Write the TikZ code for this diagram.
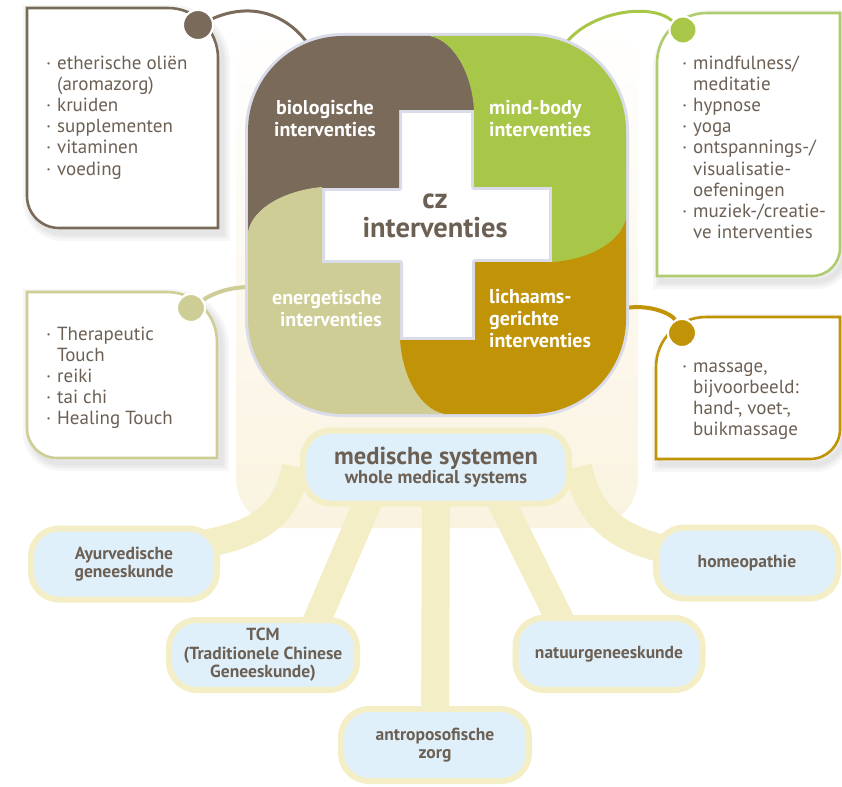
\documentclass[tikz,border=0pt]{standalone}
\usepackage{fontspec}
\setmainfont{PT Sans}
\usetikzlibrary{backgrounds}
\definecolor{brownc}{RGB}{122,106,90}
\definecolor{greenc}{RGB}{168,198,72}
\definecolor{goldc}{RGB}{193,148,8}
\definecolor{beigec}{RGB}{207,205,150}
\definecolor{textc}{RGB}{108,96,84}
\definecolor{bluefill}{RGB}{224,240,251}
\definecolor{creamc}{RGB}{243,238,198}
\definecolor{halo}{RGB}{218,220,234}
\definecolor{glow}{RGB}{250,243,224}
\definecolor{greenbox}{RGB}{176,204,112}
\newcommand\bl{\makebox[11pt][l]{·}}
\newcommand\ind{\hspace*{11pt}}
\tikzset{
  piecelabel/.style={text=white, font=\bfseries\fontsize{20}{22}\selectfont, inner sep=0pt},
  boxtext/.style={text=textc, font=\fontsize{19}{21.2}\selectfont, align=left, anchor=north west, inner sep=0pt},
  sysnode/.style={draw=creamc, line width=6pt, fill=bluefill, rounded corners=28pt, text=textc,
    font=\bfseries\fontsize{17.5}{18.5}\selectfont, align=center, inner sep=0pt},
  sysline/.style={draw=creamc, line width=28pt},
  dotnode/.style={circle, draw=white, line width=2pt, inner sep=0pt, minimum size=28pt},
  boxline/.style={line width=2.6pt, fill=white},
  shadowline/.style={draw=black, opacity=0.035},
}
\begin{document}
\begin{tikzpicture}[x=1pt,y=-1pt]
\useasboundingbox (0,0) rectangle (842,786);

% ---- medical system nodes ----
\node[sysnode, minimum width=266pt, minimum height=73pt] (med) at (436,467)
  {{\fontsize{24.5}{23}\selectfont medische systemen}\\{\fontsize{18.5}{20}\selectfont whole medical systems}};
\node[sysnode, minimum width=186pt, minimum height=71pt] (ayur) at (124,564) {Ayurvedische\\geneeskunde};
\node[sysnode, minimum width=188pt, minimum height=70pt] (tcm) at (263,655) {TCM\\(Traditionele Chinese\\Geneeskunde)};
\node[sysnode, minimum width=188pt, minimum height=72pt] (antro) at (435,745) {antroposofische\\zorg};
\node[sysnode, minimum width=187pt, minimum height=72pt] (natuur) at (609,654) {natuurgeneeskunde};
\node[sysnode, minimum width=182pt, minimum height=71pt] (homeo) at (747,563) {homeopathie};

\begin{scope}[on background layer]
  \shade[top color=white, bottom color=glow, rounded corners=50pt] (236,20) rectangle (638,528);
  \draw[sysline] ([xshift=-140pt]med.center) .. controls (285,520) and (255,548) .. ([yshift=14pt]ayur.center);
  \draw[sysline] ([xshift=142pt]med.center) .. controls (590,520) and (620,556) .. ([yshift=6pt]homeo.center);
  \draw[sysline] ([xshift=-53pt]med.center) -- ([xshift=39pt]tcm.center);
  \draw[sysline] ([xshift=48pt]med.center) -- ([xshift=-32pt]natuur.center);
  \draw[sysline] (med.center) -- (antro.center);
\end{scope}

% ---- side boxes: soft shadows ----
\foreach \w in {16,10,5}{
  \draw[shadowline, line width=\w pt, shift={(4,5)}] (27,8) -- (168,8) .. controls (195.6,8) and (218,30.4) .. (218,58) -- (218,228) -- (59,228) .. controls (41.3,228) and (27,213.7) .. (27,196) -- cycle;
  \draw[shadowline, line width=\w pt, shift={(4,5)}] (657,63) .. controls (657,35.4) and (679.4,13) .. (707,13) -- (840,13) -- (840,248) .. controls (840,263.5) and (827.5,276) .. (812,276) -- (657,276) -- cycle;
  \draw[shadowline, line width=\w pt, shift={(4,5)}] (27,292) -- (167,292) .. controls (194.6,292) and (217,314.4) .. (217,342) -- (217,458) -- (57,458) .. controls (40.4,458) and (27,444.6) .. (27,428) -- cycle;
  \draw[shadowline, line width=\w pt, shift={(4,5)}] (656,367) .. controls (656,339.4) and (678.4,317) .. (706,317) -- (840,317) -- (840,429) .. controls (840,445.6) and (826.6,459) .. (810,459) -- (656,459) -- cycle;
}

% ---- side boxes ----
\draw[boxline, draw=brownc] (27,8) -- (168,8) .. controls (195.6,8) and (218,30.4) .. (218,58) -- (218,228) -- (59,228) .. controls (41.3,228) and (27,213.7) .. (27,196) -- cycle;
\draw[boxline, draw=greenbox] (657,63) .. controls (657,35.4) and (679.4,13) .. (707,13) -- (840,13) -- (840,248) .. controls (840,263.5) and (827.5,276) .. (812,276) -- (657,276) -- cycle;
\draw[boxline, draw=beigec] (27,292) -- (167,292) .. controls (194.6,292) and (217,314.4) .. (217,342) -- (217,458) -- (57,458) .. controls (40.4,458) and (27,444.6) .. (27,428) -- cycle;
\draw[boxline, draw=goldc] (656,367) .. controls (656,339.4) and (678.4,317) .. (706,317) -- (840,317) -- (840,429) .. controls (840,445.6) and (826.6,459) .. (810,459) -- (656,459) -- cycle;

\node[boxtext] (biotext) at (46,54) {\strut\bl etherische oliën\\\ind(aromazorg)\\\bl kruiden\\\bl supplementen\\\bl vitaminen\\\bl voeding};
\node[boxtext] (mindtext) at (682,54) {\strut\bl mindfulness/\\\ind meditatie\\\bl hypnose\\\bl yoga\\\bl ontspannings-/\\\ind visualisatie-\\\ind oefeningen\\\bl muziek-/creatie-\\\ind ve interventies};
\node[boxtext] (enertext) at (46,325) {\strut\bl Therapeutic\\\ind Touch\\\bl reiki\\\bl tai chi\\\bl Healing Touch};
\node[boxtext] (lichtext) at (682,357) {\strut\bl massage,\\\ind bijvoorbeeld:\\\ind hand-, voet-,\\\ind buikmassage};

% ---- connectors to the central square ----
\coordinate (bioTop) at (308,44);
\coordinate (mindTop) at (566,43);
\coordinate (enerL) at (250,287);
\coordinate (lichR) at (626,308);
\node[dotnode, fill=brownc, minimum size=30pt] (bdot) at (198,25) {};
\node[dotnode, fill=greenc, minimum size=27pt] (gdot) at (683,30) {};
\node[dotnode, fill=beigec, minimum size=28pt] (edot) at (191,308) {};
\node[dotnode, fill=goldc, minimum size=28pt] (ldot) at (682,333) {};
\draw[brownc, line width=3pt] (bdot) .. controls (255,0) and (290,18) .. (bioTop);
\draw[greenc, line width=3pt] (mindTop) .. controls (590,12) and (650,2) .. (gdot);
\draw[beigec, line width=4pt] (edot) .. controls (215,292) and (232,287) .. (enerL);
\draw[goldc, line width=4pt] (lichR) .. controls (650,304) and (672,314) .. (ldot);
\node[dotnode, fill=brownc, minimum size=30pt] at (bdot) {};
\node[dotnode, fill=greenc, minimum size=27pt] at (gdot) {};
\node[dotnode, fill=beigec, minimum size=28pt] at (edot) {};
\node[dotnode, fill=goldc, minimum size=28pt] at (ldot) {};

% ---- central pinwheel ----
\fill[white] (399,110) rectangle (475,340);
\fill[white] (322,188) rectangle (552,262);
\foreach \ang in {0,-90,-180,-270}{
  \begin{scope}[shift={(437,225)}, rotate=\ang]
    \draw[halo, line width=6pt, line join=round] (-189,7) -- (-189,-94) .. controls (-189,-146.5) and (-146.5,-189) .. (-94,-189) -- (-7,-189) .. controls (18,-184) and (35,-150) .. (38,-115) -- (-38,-115) -- (-38,-37) -- (-115,-37) .. controls (-150,-35) and (-184,-18) .. (-189,7) -- cycle;
  \end{scope}
}
\foreach \ang/\col in {0/brownc,-90/greenc,-180/goldc,-270/beigec}{
  \begin{scope}[shift={(437,225)}, rotate=\ang]
    \fill[\col] (-189,7) -- (-189,-94) .. controls (-189,-146.5) and (-146.5,-189) .. (-94,-189) -- (-7,-189) .. controls (18,-184) and (35,-150) .. (38,-115) -- (-38,-115) -- (-38,-37) -- (-115,-37) .. controls (-150,-35) and (-184,-18) .. (-189,7) -- cycle;
  \end{scope}
}

\node[piecelabel, align=center] (biolab) at (325,119) {biologische\\interventies};
\node[piecelabel, align=left, anchor=west] (mindlab) at (489,119) {mind-body\\interventies};
\node[piecelabel, align=right, anchor=east] (enerlab) at (382,309) {energetische\\interventies};
\node[piecelabel, align=left, anchor=west] (lichlab) at (489,319) {lichaams-\\gerichte\\interventies};
\node[text=textc, font=\bfseries\fontsize{28.5}{29}\selectfont, align=center, inner sep=0pt] (cz) at (435,216) {cz\\interventies};
\end{tikzpicture}
\end{document}
